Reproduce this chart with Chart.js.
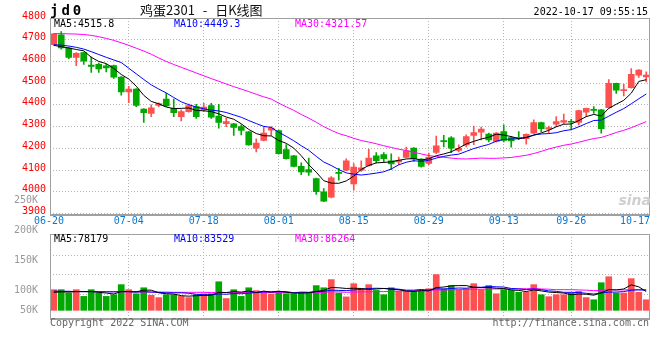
<!DOCTYPE html>
<html>
<head>
<meta charset="utf-8">
<script src="https://cdn.jsdelivr.net/npm/chart.js@4.4.1/dist/chart.umd.min.js"></script>
<style>
  body { margin: 0; background: #fff; }
  #wrap { position: relative; width: 660px; height: 360px; overflow: hidden; font-family: "DejaVu Sans Mono", monospace; font-size: 10px; }
  canvas { position: absolute; left: 0; }
  .txt { position: absolute; white-space: nowrap; line-height: 12px; }
</style>
</head>
<body>
<div id="wrap">
  <canvas id="kline" width="660" height="230" style="top:0"></canvas>
  <canvas id="vol" width="660" height="140" style="top:190px"></canvas>

  <div class="txt" style="left:50px;top:3px;font-size:14px;line-height:14px;font-weight:bold;letter-spacing:3px">jd0</div>
  <div class="txt" style="left:140px;top:2px;font-family:'Noto Sans CJK SC';font-size:13px;line-height:16px;word-spacing:5px;color:#111">鸡蛋2301 - 日K线图</div>
  <div class="txt" style="right:12px;top:6px;color:#000">2022-10-17 09:55:15</div>

  <div class="txt" style="left:54px;top:18px;color:#000">MA5:4515.8</div>
  <div class="txt" style="left:174px;top:18px;color:#0000ff">MA10:4449.3</div>
  <div class="txt" style="left:295px;top:18px;color:#ff00ff">MA30:4321.57</div>

  <div class="txt" style="left:54px;top:233px;color:#000">MA5:78179</div>
  <div class="txt" style="left:174px;top:233px;color:#0000ff">MA10:83529</div>
  <div class="txt" style="left:295px;top:233px;color:#ff00ff">MA30:86264</div>

  <div class="txt" style="right:9px;top:194px;font-family:'DejaVu Sans';font-size:14px;font-weight:bold;font-style:italic;color:#cfcfcf">sina</div>

  <div class="txt" style="left:50px;top:317px;color:#666">Copyright 2022 SINA.COM</div>
  <div class="txt" style="right:11px;top:317px;color:#666">http://finance.sina.com.cn</div>
</div>

<script>
// trading days shown (06-20 .. 10-17)
const days = [
  "06-20","06-21","06-22","06-23","06-24","06-27","06-28","06-29","06-30",
  "07-01","07-04","07-05","07-06","07-07","07-08","07-11","07-12","07-13","07-14","07-15",
  "07-18","07-19","07-20","07-21","07-22","07-25","07-26","07-27","07-28","07-29",
  "08-01","08-02","08-03","08-04","08-05","08-08","08-09","08-10","08-11","08-12",
  "08-15","08-16","08-17","08-18","08-19","08-22","08-23","08-24","08-25","08-26",
  "08-29","08-30","08-31","09-01","09-02","09-05","09-06","09-07","09-08","09-09",
  "09-13","09-14","09-15","09-16","09-19","09-20","09-21","09-22","09-23",
  "09-26","09-27","09-28","09-29","09-30","10-10","10-11","10-12","10-13","10-14","10-17"
];
const tickDays = ["06-20","07-04","07-18","08-01","08-15","08-29","09-13","09-26","10-17"];

const opens = [4677,4723,4662,4618,4641,4583,4587,4580,4581,4528, 4460,4473,4381,4361,4397,4427,4384,4346,4369,4392,
  4377,4397,4349,4314,4313,4300,4276,4201,4236,4284, 4282,4194,4166,4117,4102,4061,4000,3975,4090,4099,
  4036,4099,4120,4166,4171,4143,4137,4158,4201,4151, 4130,4181,4235,4248,4190,4216,4259,4274,4266,4232,
  4277,4249,4250,4244,4270,4319,4288,4311,4320,4323, 4319,4366,4378,4377,4387,4499,4465,4479,4537,4529];
const highs = [4730,4738,4665,4641,4643,4621,4593,4587,4583,4530, 4486,4475,4383,4400,4410,4453,4427,4377,4404,4402,
  4407,4407,4403,4338,4315,4308,4278,4244,4297,4300, 4284,4217,4168,4133,4155,4063,4015,4070,4108,4152,
  4130,4143,4197,4181,4181,4175,4160,4206,4203,4153, 4178,4256,4260,4254,4216,4262,4303,4298,4270,4273,
  4308,4255,4277,4267,4331,4321,4303,4346,4358,4334, 4376,4385,4392,4379,4517,4500,4496,4567,4563,4552];
const lows = [4675,4656,4613,4580,4586,4549,4549,4552,4522,4445, 4410,4392,4319,4346,4392,4392,4346,4326,4366,4338,
  4369,4338,4293,4300,4259,4262,4214,4183,4234,4259, 4173,4150,4115,4079,4075,3988,3955,3972,4053,4097,
  4007,4094,4118,4133,4136,4102,4125,4156,4140,4113, 4125,4175,4206,4180,4184,4206,4217,4239,4230,4228,
  4230,4205,4240,4219,4268,4277,4270,4300,4313,4285, 4308,4346,4361,4270,4385,4453,4441,4477,4526,4506];
const closes = [4727,4662,4618,4637,4601,4577,4566,4570,4528,4460, 4473,4397,4364,4387,4406,4395,4364,4369,4397,4346,
  4390,4343,4319,4323,4296,4282,4216,4224,4270,4293, 4175,4152,4117,4091,4090,4000,3957,4064,4084,4143,
  4114,4110,4155,4143,4152,4128,4145,4189,4151,4117, 4160,4212,4231,4201,4200,4254,4273,4289,4239,4270,
  4236,4234,4244,4265,4319,4291,4296,4323,4328,4320, 4374,4384,4375,4290,4499,4468,4471,4541,4560,4537];

const ma5 = [4674,4668,4662,4655,4649,4619,4600,4590,4568,4540, 4519,4486,4444,4416,4405,4390,4383,4384,4386,4374,
  4373,4369,4359,4344,4334,4313,4287,4268,4258,4257, 4236,4223,4201,4166,4125,4090,4051,4040,4039,4050,
  4072,4103,4121,4133,4135,4138,4145,4151,4153,4146, 4152,4166,4174,4184,4201,4220,4232,4243,4251,4265,
  4261,4254,4245,4250,4260,4271,4283,4299,4311,4312, 4328,4346,4356,4349,4384,4403,4421,4454,4508,4516];
const ma10 = [4677,4675,4671,4665,4657,4645,4632,4619,4607,4595, 4569,4543,4517,4492,4473,4455,4434,4414,4401,4390,
  4382,4376,4372,4365,4354,4343,4328,4314,4301,4296, 4274,4255,4235,4212,4191,4163,4137,4121,4102,4087,
  4081,4077,4081,4086,4092,4105,4124,4136,4143,4140, 4145,4155,4163,4169,4173,4186,4199,4209,4218,4233,
  4241,4243,4244,4250,4262,4266,4268,4272,4281,4286, 4299,4314,4328,4330,4348,4366,4383,4405,4428,4450];
const ma30 = [4728,4728,4727,4726,4724,4720,4714,4706,4697,4686, 4674,4661,4648,4633,4616,4600,4586,4573,4560,4547,
  4534,4521,4509,4496,4484,4473,4461,4449,4437,4427, 4408,4391,4375,4356,4339,4320,4300,4283,4268,4258,
  4246,4236,4229,4221,4212,4204,4196,4190,4182,4174, 4167,4162,4159,4155,4152,4151,4153,4155,4154,4154,
  4156,4158,4163,4168,4176,4186,4197,4206,4214,4220, 4228,4237,4245,4250,4261,4273,4283,4295,4309,4323];

// volume, thousand lots
const volume = [86,86,72,86,58,86,72,58,65,107, 86,69,94,63,53,65,65,58,53,65,
  69,69,119,49,86,58,94,82,78,68, 78,69,69,75,75,103,94,128,72,56,
  111,89,107,83,65,94,79,79,79,79, 90,149,89,103,86,90,111,86,103,69,
  86,83,75,75,107,65,57,65,65,72, 79,53,44,115,140,72,72,132,75,44];
const volMa5 = [75,77,76,78,78,78,75,72,68,78, 78,77,84,84,73,69,68,61,59,61,
  62,63,75,74,78,76,81,74,80,76, 80,75,72,72,73,78,83,95,94,91,
  92,91,87,89,91,88,86,80,79,82, 81,95,97,102,103,103,96,95,95,92,
  91,85,83,78,85,81,76,74,72,65, 68,67,63,73,86,85,89,106,98,78];
const volMa10 = [80,79,79,78,78,78,77,77,77,78, 78,76,78,76,75,73,73,73,71,67,
  65,65,68,67,70,69,72,74,77,77, 78,78,73,76,75,79,79,84,83,82,
  85,87,91,92,91,90,88,84,84,87, 84,90,89,91,93,92,96,96,99,98,
  97,91,89,86,89,86,81,79,75,75, 74,71,68,72,76,76,78,84,85,84];
const volMa30 = [79,79,79,78,78,78,78,78,77,77, 77,77,76,76,76,76,75,75,75,75,
  75,74,75,74,74,74,74,74,74,74, 74,73,73,73,73,74,75,77,77,75,
  76,77,77,78,78,79,80,81,81,82, 83,85,84,86,86,87,88,88,89,89,
  89,89,90,90,91,89,88,86,86,86, 85,84,82,83,86,85,85,86,86,86];

const priceTicks = [4800,4700,4600,4500,4400,4300,4200,4100,4000,3900];
// sina prints the volume axis labels on their own spacing; the lowest one sits on the baseline
const volLabels = ["250K","200K","150K","100K","50K"];
const volLabelAt = [250,200,150,100,66.7];
const volGrid = [65,149,229];

const RED = "#ff5050", GREEN = "#00a800", GRID = "#b4b4b4", FRAME = "#a0a0a0";
const MONO = '"DejaVu Sans Mono", monospace';
Chart.defaults.font.family = MONO;
Chart.defaults.font.size = 10;

const candleColors = opens.map((o, i) => (closes[i] >= o ? RED : GREEN));
const gridIdx = tickDays.slice(1, -1).map(d => days.indexOf(d));

const framePlugin = {
  id: "frame",
  afterDraw(chart) {
    const { ctx, chartArea: a } = chart;
    const l = Math.round(a.left), t = Math.round(a.top), r = Math.round(a.right), b = Math.round(a.bottom);
    ctx.save();
    ctx.strokeStyle = FRAME;
    ctx.lineWidth = 1;
    ctx.strokeRect(l + 0.5, t + 0.5, r - l - 1, b - t);
    ctx.fillStyle = FRAME;
    ctx.fillRect(l, b, r - l, 2);
    ctx.restore();
  }
};

const dateLabels = {
  id: "dateLabels",
  afterDraw(chart) {
    const { ctx, chartArea: a, scales } = chart;
    ctx.save();
    ctx.font = "10px " + MONO;
    ctx.fillStyle = "#0a78d2";
    ctx.textBaseline = "middle";
    tickDays.forEach((d, k) => {
      let px = scales.x.getPixelForValue(days.indexOf(d));
      ctx.textAlign = "center";
      if (k === 0) px = a.left - 1;
      if (k === tickDays.length - 1) { ctx.textAlign = "right"; px = a.right; }
      ctx.fillText(d, px, a.bottom + 8);
    });
    ctx.restore();
  }
};

function xAxis(height) {
  return {
    grid: {
      offset: false,
      drawTicks: false,
      color: c => (gridIdx.includes(c.index) ? GRID : "transparent")
    },
    border: { display: false, dash: [1, 2] },
    ticks: { display: false, autoSkip: false },
    afterFit: s => { s.height = height; s.paddingLeft = 0; s.paddingRight = 0; }
  };
}

function maLine(data, color) {
  return { type: "line", data: data, borderColor: color, borderWidth: 1, pointRadius: 0, tension: 0, order: 1 };
}

const common = {
  responsive: false,
  animation: false,
  devicePixelRatio: 1,
  events: [],
  plugins: { legend: { display: false }, tooltip: { enabled: false } }
};

new Chart(document.getElementById("kline"), {
  type: "bar",
  data: {
    labels: days,
    datasets: [
      maLine(ma5, "#000000"),
      maLine(ma10, "#0000ff"),
      maLine(ma30, "#ff00ff"),
      {
        data: opens.map((o, i) => [o, closes[i]]),
        backgroundColor: candleColors,
        barThickness: 6,
        minBarLength: 1,
        grouped: false,
        order: 2
      },
      {
        data: lows.map((l, i) => [l, highs[i]]),
        backgroundColor: candleColors,
        barThickness: 1,
        grouped: false,
        order: 3
      }
    ]
  },
  options: {
    ...common,
    layout: { padding: { top: 18, right: 10, left: 0, bottom: 0 } },
    scales: {
      x: xAxis(16.5),
      y: {
        min: 3900,
        max: 4800,
        afterBuildTicks: s => { s.ticks = priceTicks.map(v => ({ value: v })); },
        afterFit: s => { s.width = 50; },
        ticks: { color: "#ff0000", padding: 4, autoSkip: false, labelOffset: -2, callback: v => String(v) },
        grid: { color: GRID, drawTicks: false },
        border: { display: false, dash: [1, 2] }
      }
    }
  },
  plugins: [framePlugin, dateLabels]
});

new Chart(document.getElementById("vol"), {
  type: "bar",
  data: {
    labels: days,
    datasets: [
      maLine(volMa5, "#000000"),
      maLine(volMa10, "#0000ff"),
      maLine(volMa30, "#ff00ff"),
      { data: volume, backgroundColor: candleColors, barThickness: 6, order: 2 }
    ]
  },
  options: {
    ...common,
    layout: { padding: { top: 44, right: 10, left: 0, bottom: 0 } },
    scales: {
      x: xAxis(12),
      y: {
        position: "left",
        min: -32,
        max: 318,
        afterBuildTicks: s => { s.ticks = volGrid.map(v => ({ value: v })); },
        afterFit: s => { s.width = 0; },
        ticks: { display: false },
        grid: { color: GRID, drawTicks: false },
        border: { display: false, dash: [1, 2] }
      },
      yl: {
        position: "left",
        min: 54,
        max: 194,
        afterBuildTicks: s => { s.ticks = volLabelAt.map(v => ({ value: v })); },
        afterFit: s => { s.width = 50; },
        ticks: { color: "#999999", padding: 4, autoSkip: false, labelOffset: 0, callback: (v, i) => volLabels[i] },
        grid: { display: false },
        border: { display: false }
      }
    }
  },
  plugins: [framePlugin]
});
</script>
</body>
</html>
